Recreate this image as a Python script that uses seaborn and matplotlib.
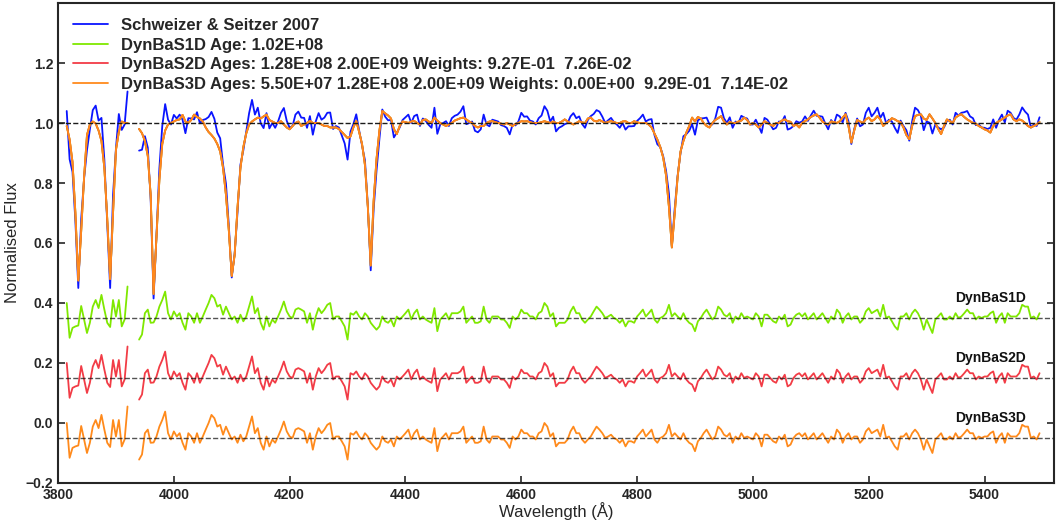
import numpy as np
import pandas as pd
import matplotlib
matplotlib.use('Agg')
import matplotlib.pyplot as plt
import seaborn as sns

sns.set_theme(style="ticks")
plt.rcParams['font.family'] = ['Liberation Sans', 'DejaVu Sans']
plt.rcParams['xtick.direction'] = 'in'
plt.rcParams['ytick.direction'] = 'in'

nan = np.nan

# wavelength grid (Angstrom), 5 A sampling
wavelength = np.arange(3815, 5500, 5)

# best-fit model spectrum (DynBaS fits overlap almost perfectly)
model_flux = [
    0.99, 0.945, 0.87, 0.70, 0.475, 0.64, 0.82, 0.96, 0.995, 1.005,
    0.998, 0.975, 0.94, 0.85, 0.68, 0.48, 0.70, 0.91, 0.97, 1.005,
    1.0, 1.0, nan, nan, nan, 0.98, 0.966, 0.94, 0.89, 0.76,
    0.43, 0.62, 0.81, 0.93, 0.975, 0.995, 1.0, 1.005, 1.01, 1.012,
    1.027, 1.005, 1.0, 1.01, 1.028, 1.02, 1.015, 1.005, 0.985, 0.97,
    0.96, 0.948, 0.93, 0.905, 0.85, 0.76, 0.64, 0.49, 0.56, 0.72,
    0.85, 0.92, 0.965, 0.995, 1.005, 1.012, 1.018, 1.015, 1.022, 1.028,
    1.01, 1.005, 1.0, 1.0, 1.006, 0.995, 0.985, 0.979, 0.99, 1.0,
    1.005, 0.99, 0.995, 1.0, 1.007, 1.0, 1.0, 1.0, 0.995, 0.99,
    0.99, 0.985, 0.985, 0.985, 0.98, 0.97, 0.96, 0.95, 0.955, 0.985,
    1.007, 0.97, 0.93, 0.86, 0.72, 0.525, 0.74, 0.88, 0.975, 1.04,
    1.032, 1.025, 1.015, 0.98, 0.963, 0.99, 1.005, 1.003, 1.0, 1.005,
    1.007, 1.0, 0.995, 1.01, 1.012, 1.005, 1.0, 1.018, 1.008, 1.0,
    0.995, 0.99, 0.995, 1.0, 1.008, 1.012, 1.016, 1.018, 1.012, 1.005,
    1.0, 0.99, 0.985, 0.99, 0.99, 1.0, 1.005, 1.006, 1.003, 1.0,
    0.998, 0.995, 1.0, 0.995, 0.99, 0.997, 1.0, 1.006, 1.005, 1.006,
    1.003, 1.0, 1.0, 1.0, 1.003, 1.006, 1.003, 1.0, 1.005, 1.0,
    1.0, 1.005, 1.012, 1.005, 1.0, 0.995, 1.0, 1.006, 1.002, 1.0,
    1.015, 1.018, 1.008, 1.005, 1.01, 1.005, 1.0, 1.004, 1.006, 1.003,
    1.0, 1.0, 1.005, 1.006, 1.0, 1.0, 1.006, 1.002, 1.0, 1.0,
    1.0, 0.995, 0.985, 0.965, 0.945, 0.92, 0.885, 0.825, 0.72, 0.585,
    0.70, 0.82, 0.905, 0.94, 0.968, 0.99, 1.018, 1.005, 1.02, 1.015,
    1.0, 0.99, 0.985, 1.0, 1.01, 1.016, 1.023, 1.005, 0.995, 1.003,
    1.0, 1.0, 1.005, 1.008, 1.018, 1.01, 0.995, 1.0, 0.995, 0.985,
    0.995, 1.006, 1.0, 0.995, 0.99, 1.0, 1.0, 1.008, 1.012, 1.006,
    1.004, 0.99, 0.995, 0.985, 1.0, 1.006, 1.012, 1.02, 1.025, 1.029,
    1.018, 1.005, 0.998, 0.995, 1.005, 1.003, 1.0, 1.006, 1.018, 1.029,
    0.99, 0.935, 0.975, 1.01, 1.005, 1.0, 1.012, 1.018, 1.006, 1.012,
    1.023, 1.012, 0.99, 1.0, 1.006, 1.016, 1.012, 1.006, 1.003, 0.985,
    0.96, 0.946, 0.99, 1.023, 1.027, 1.029, 1.015, 1.01, 1.029, 1.015,
    1.0, 0.98, 0.963, 0.99, 1.012, 1.006, 1.0, 1.018, 1.025, 1.029,
    1.02, 1.012, 1.006, 1.0, 0.998, 0.99, 0.985, 0.979, 0.975, 0.968,
    0.99, 1.0, 1.006, 1.012, 1.018, 1.025, 1.029, 1.012, 1.006, 1.012,
    1.008, 1.0, 0.99, 0.985, 0.99, 0.995, 1.003,
]

# observed minus model
residual = [
    0.05, -0.066, -0.033, -0.028, -0.025, 0.04, -0.005, -0.05, -0.016, 0.038,
    0.06, 0.033, 0.077, 0.028, -0.016, -0.03, 0.06, 0.005, 0.06, -0.028,
    -0.005, 0.105, nan, nan, nan, -0.072, -0.055, 0.016, 0.028, -0.016,
    -0.015, 0.005, 0.038, 0.06, 0.088, 0.016, -0.005, 0.022, 0.005, 0.016,
    -0.016, -0.039, 0.016, 0.005, -0.016, 0.016, -0.016, 0.005, 0.028, 0.05,
    0.077, 0.066, 0.038, 0.044, 0.011, 0.038, 0.016, -0.005, 0.005, -0.016,
    0.011, -0.011, 0.005, 0.038, 0.072, 0.016, 0.033, -0.016, -0.039, 0.005,
    -0.028, -0.005, -0.016, 0.005, 0.028, 0.055, 0.022, 0.005, 0.0, 0.028,
    0.033, 0.028, 0.022, -0.016, 0.016, -0.039, 0.005, 0.033, 0.016, 0.028,
    0.044, 0.05, -0.005, 0.005, 0.005, -0.011, -0.028, -0.072, 0.016, 0.011,
    0.022, 0.005, -0.005, 0.016, 0.005, -0.016, -0.028, -0.039, -0.028, 0.005,
    -0.011, -0.016, -0.005, -0.028, 0.005, -0.005, 0.005, 0.016, 0.028, -0.005,
    0.016, 0.028, -0.005, 0.005, -0.005, -0.011, -0.016, 0.033, -0.044, -0.005,
    0.005, 0.016, -0.005, 0.016, 0.016, 0.016, 0.022, 0.038, -0.016, -0.005,
    0.005, -0.016, -0.016, -0.011, 0.038, -0.005, -0.016, 0.005, 0.005, 0.005,
    -0.005, -0.005, -0.016, -0.033, 0.005, -0.005, 0.005, 0.028, 0.016, 0.016,
    0.005, 0.005, -0.005, 0.016, 0.022, 0.05, 0.038, 0.005, 0.016, -0.028,
    -0.016, -0.016, -0.016, -0.005, 0.022, 0.038, 0.016, 0.016, -0.005, -0.016,
    -0.005, 0.005, 0.022, 0.038, 0.028, 0.016, 0.0, 0.005, 0.011, 0.0,
    -0.005, -0.016, -0.005, -0.028, -0.011, -0.011, -0.016, 0.005, 0.016, 0.028,
    0.005, 0.016, 0.028, -0.005, -0.016, 0.0, 0.005, 0.016, 0.044, 0.005,
    0.016, 0.005, -0.005, 0.016, -0.005, -0.016, -0.022, -0.044, -0.011, 0.0,
    0.016, 0.028, 0.011, -0.005, 0.005, 0.038, 0.028, 0.011, 0.005, 0.016,
    -0.016, 0.005, -0.005, 0.016, 0.0, 0.005, 0.0, -0.005, 0.016, 0.005,
    -0.028, 0.011, 0.011, 0.0, -0.011, -0.016, 0.005, -0.005, 0.011, -0.028,
    -0.022, 0.0, 0.011, 0.016, 0.005, 0.016, -0.005, 0.005, 0.016, -0.005,
    0.005, 0.016, 0.0, -0.016, 0.005, -0.005, 0.028, 0.016, -0.016, 0.005,
    0.016, -0.005, 0.005, 0.005, -0.016, -0.005, 0.022, 0.033, 0.016, 0.022,
    0.028, 0.005, 0.044, 0.0, 0.005, -0.011, -0.028, -0.039, 0.005, 0.005,
    0.016, -0.005, 0.016, 0.028, 0.016, -0.005, -0.039, -0.005, -0.028, -0.05,
    -0.005, 0.005, 0.016, -0.005, -0.005, 0.005, -0.005, 0.016, 0.0, 0.005,
    0.016, 0.028, 0.016, 0.016, -0.005, 0.005, 0.0, 0.005, 0.005, 0.016,
    0.022, -0.016, 0.005, 0.016, -0.016, 0.016, 0.005, 0.005, 0.005, 0.016,
    0.044, 0.038, 0.038, 0.0, 0.005, -0.005, 0.016,
]

series_labels = [
    'Schweizer & Seitzer 2007',
    'DynBaS1D Age: 1.02E+08',
    'DynBaS2D Ages: 1.28E+08 2.00E+09 Weights: 9.27E-01  7.26E-02',
    'DynBaS3D Ages: 5.50E+07 1.28E+08 2.00E+09 Weights: 0.00E+00  9.29E-01  7.14E-02',
]
resid_names = ['DynBaS1D', 'DynBaS2D', 'DynBaS3D']
resid_offsets = [0.35, 0.15, -0.05]

COLORS = {'obs': '#0a14ff', 'd1': '#7fe800', 'd2': '#f23c46', 'd3': '#ff8a1c'}

df = pd.DataFrame({'wave': wavelength, 'model': model_flux, 'resid': residual})
df = df.dropna()
df['segment'] = (df['wave'] > 3930).astype(int)
df['obs'] = df['model'] + df['resid']

fig = plt.figure(figsize=(10.59, 5.27), dpi=100)
ax = fig.add_axes([0.0548, 0.0835, 0.9405, 0.9108])

lw = 1.3
sns.lineplot(data=df, x='wave', y='obs', units='segment', estimator=None,
             color=COLORS['obs'], lw=lw, label=series_labels[0], ax=ax)
for key, lab in zip(['d1', 'd2', 'd3'], series_labels[1:]):
    sns.lineplot(data=df, x='wave', y='model', units='segment', estimator=None,
                 color=COLORS[key], lw=lw, label=lab, ax=ax)

for key, name, off in zip(['d1', 'd2', 'd3'], resid_names, resid_offsets):
    res = df.assign(shifted=df['resid'] + off)
    sns.lineplot(data=res, x='wave', y='shifted', units='segment', estimator=None,
                 color=COLORS[key], lw=lw, ax=ax)
    ax.axhline(off, color='k', ls='--', lw=1.0, alpha=0.75, zorder=5)
    ax.text(5410, off + 0.065, name, ha='center', va='center',
            fontsize=10, fontweight='bold', color='#111111')

ax.axhline(1.0, color='k', ls='--', lw=1.0, zorder=5)

ax.set_xlim(3800, 5520)
ax.set_ylim(-0.2, 1.4)
ax.set_xticks(np.arange(3800, 5401, 200))
ax.set_yticks([-0.2, 0.0, 0.2, 0.4, 0.6, 0.8, 1.0, 1.2])
ax.set_yticklabels(['\u22120.2', '0.0', '0.2', '0.4', '0.6', '0.8', '1.0', '1.2'])
ax.tick_params(axis='both', which='major', direction='in', length=5, width=1.2,
               labelsize=10, right=True, top=False)
for lbl in ax.get_xticklabels() + ax.get_yticklabels():
    lbl.set_fontweight('bold')
for sp in ax.spines.values():
    sp.set_linewidth(1.5)
    sp.set_visible(True)

ax.set_xlabel('Wavelength (\u00c5)', fontsize=12, labelpad=0)
ax.set_ylabel('Normalised Flux', fontsize=12, labelpad=4)

# one legend entry per series (units split each series into two line pieces)
handles, labels = ax.get_legend_handles_labels()
seen = {}
for h, l in zip(handles, labels):
    if l not in seen:
        seen[l] = h
ax.legend(list(seen.values()), list(seen.keys()), loc='upper left', frameon=False,
          prop={'weight': 'bold', 'size': 12}, handlelength=2.1, labelspacing=0.27)

fig.savefig('out.png', dpi=100)
